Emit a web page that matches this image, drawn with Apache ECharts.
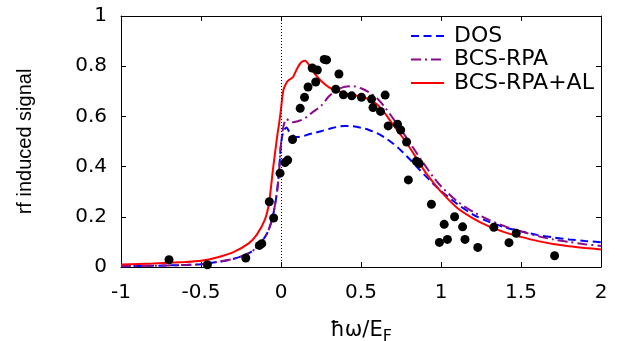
<!DOCTYPE html>
<html>
<head>
<meta charset="utf-8">
<script src="https://cdn.jsdelivr.net/npm/echarts@6/dist/echarts.min.js"></script>
<style>
html,body{margin:0;padding:0;background:#fff;}
#chart{width:618px;height:341px;}
</style>
</head>
<body>
<div id="chart"></div>
<script>
// Theory curves, sampled on a common x grid (ħω/E_F)
const curveX = [-1, -0.8, -0.6, -0.5, -0.4, -0.3, -0.2, -0.15, -0.1, -0.075, -0.05, -0.025, -0.01, 0, 0.015, 0.035, 0.05, 0.075, 0.1, 0.125, 0.15, 0.175, 0.2, 0.25, 0.3, 0.35, 0.4, 0.45, 0.5, 0.55, 0.6, 0.65, 0.7, 0.75, 0.8, 0.85, 0.9, 0.95, 1.0, 1.1, 1.2, 1.3, 1.4, 1.5, 1.6, 1.7, 1.8, 1.9, 2.0];
const dosY = [0.003, 0.005, 0.008, 0.011, 0.02, 0.032, 0.055, 0.08, 0.12, 0.152, 0.205, 0.3, 0.4, 0.49, 0.54, 0.556, 0.54, 0.524, 0.518, 0.52, 0.524, 0.529, 0.533, 0.541, 0.55, 0.558, 0.562, 0.561, 0.555, 0.546, 0.533, 0.515, 0.492, 0.464, 0.432, 0.398, 0.365, 0.333, 0.303, 0.252, 0.209, 0.18, 0.158, 0.142, 0.128, 0.118, 0.11, 0.104, 0.099];
const rpaY = [0.003, 0.005, 0.008, 0.011, 0.02, 0.032, 0.055, 0.08, 0.12, 0.152, 0.205, 0.3, 0.4, 0.49, 0.56, 0.59, 0.582, 0.577, 0.58, 0.585, 0.593, 0.605, 0.618, 0.642, 0.68, 0.705, 0.718, 0.72, 0.712, 0.696, 0.672, 0.636, 0.592, 0.547, 0.5, 0.452, 0.405, 0.36, 0.322, 0.262, 0.22, 0.188, 0.162, 0.142, 0.124, 0.11, 0.1, 0.091, 0.084];
const alY = [0.01, 0.014, 0.02, 0.025, 0.038, 0.058, 0.095, 0.13, 0.19, 0.255, 0.39, 0.515, 0.58, 0.63, 0.705, 0.735, 0.745, 0.757, 0.79, 0.815, 0.822, 0.805, 0.778, 0.742, 0.716, 0.703, 0.692, 0.685, 0.678, 0.668, 0.648, 0.612, 0.567, 0.525, 0.48, 0.43, 0.38, 0.338, 0.3, 0.236, 0.194, 0.162, 0.138, 0.12, 0.104, 0.092, 0.083, 0.076, 0.07];

// Experimental points
const expX = [-0.70, -0.46, -0.22, -0.135, -0.12, -0.073, -0.046, -0.006, 0.025, 0.042, 0.072, 0.12, 0.147, 0.169, 0.217, 0.195, 0.227, 0.27, 0.285, 0.362, 0.342, 0.39, 0.442, 0.503, 0.566, 0.575, 0.622, 0.651, 0.67, 0.728, 0.748, 0.785, 0.846, 0.864, 0.796, 0.94, 1.02, 0.99, 1.04, 1.085, 1.135, 1.15, 1.23, 1.33, 1.425, 1.47, 1.71];
const expY = [0.029, 0.009, 0.036, 0.086, 0.093, 0.26, 0.195, 0.374, 0.416, 0.426, 0.508, 0.632, 0.676, 0.717, 0.737, 0.793, 0.785, 0.827, 0.825, 0.769, 0.708, 0.686, 0.682, 0.676, 0.669, 0.635, 0.62, 0.685, 0.562, 0.569, 0.546, 0.498, 0.421, 0.412, 0.347, 0.25, 0.17, 0.098, 0.11, 0.2, 0.16, 0.11, 0.078, 0.158, 0.097, 0.134, 0.045];

const seriesNames = ['DOS', 'BCS-RPA', 'BCS-RPA+AL'];
const xAxisName = 'ħω/E';
const xAxisSub = 'F';
const yAxisName = 'rf induced signal';

const pairs = (xs, ys) => xs.map((x, i) => [x, ys[i]]);

const chart = echarts.init(document.getElementById('chart'), null, {renderer: 'canvas'});
const tickFont = {fontFamily: 'DejaVu Sans', fontSize: 20, color: '#000'};
const axisCommon = {
  type: 'value',
  axisLine: {show: true, onZero: false, lineStyle: {color: '#000', width: 1}},
  axisTick: {show: true, inside: true, length: 5, lineStyle: {color: '#000'}},
  splitLine: {show: false}
};
chart.setOption({
  animation: false,
  grid: {left: 121, right: 17, top: 16, bottom: 74, containLabel: false, outerBoundsMode: 'none'},
  xAxis: [
    Object.assign({}, axisCommon, {
      min: -1, max: 2, interval: 0.5, position: 'bottom',
      axisLabel: Object.assign({margin: 16}, tickFont),
      name: '{a|' + xAxisName + '}{b|' + xAxisSub + '}',
      nameLocation: 'middle', nameGap: 50,
      nameTextStyle: {
        rich: {
          a: {fontFamily: 'DejaVu Sans', fontSize: 21, color: '#000'},
          b: {fontFamily: 'DejaVu Sans', fontSize: 16, color: '#000', padding: [12, 0, 0, 0]}
        }
      }
    }),
    Object.assign({}, axisCommon, {
      min: -1, max: 2, interval: 0.5, position: 'top',
      axisLabel: {show: false}
    })
  ],
  yAxis: [
    Object.assign({}, axisCommon, {
      min: 0, max: 1, interval: 0.2, position: 'left',
      axisLabel: Object.assign({margin: 14}, tickFont),
      name: yAxisName, nameLocation: 'middle', nameGap: 86,
      nameTextStyle: {fontFamily: 'Liberation Sans', fontSize: 20, color: '#000'}
    }),
    Object.assign({}, axisCommon, {
      min: 0, max: 1, interval: 0.2, position: 'right',
      axisLabel: {show: false}
    })
  ],
  legend: {
    data: seriesNames,
    orient: 'vertical',
    left: 405, top: 20,
    itemWidth: 33, itemHeight: 14, itemGap: 1.5,
    itemStyle: {opacity: 0},
    textStyle: {fontFamily: 'DejaVu Sans', fontSize: 22, color: '#000', lineHeight: 22, padding: [0, 0, 0, 5]}
  },
  series: [
    {
      name: 'zero', type: 'line', data: [], silent: true,
      markLine: {
        silent: true, symbol: 'none', label: {show: false},
        lineStyle: {color: '#000', type: [1, 2], width: 1},
        data: [{xAxis: 0}]
      }
    },
    {
      name: seriesNames[0], type: 'line', data: pairs(curveX, dosY),
      showSymbol: false, symbol: 'none', smooth: 0.3,
      lineStyle: {color: '#0000ff', width: 2, type: [8, 4.5]},
      itemStyle: {color: '#0000ff'}
    },
    {
      name: seriesNames[1], type: 'line', data: pairs(curveX, rpaY),
      showSymbol: false, symbol: 'none', smooth: 0.3,
      lineStyle: {color: '#8a0a8a', width: 2, type: [10, 4, 2, 4]},
      itemStyle: {color: '#8a0a8a'}
    },
    {
      name: seriesNames[2], type: 'line', data: pairs(curveX, alY),
      showSymbol: false, symbol: 'none', smooth: 0.3,
      lineStyle: {color: '#ff0000', width: 2},
      itemStyle: {color: '#ff0000'}
    },
    {
      name: 'data', type: 'scatter', data: pairs(expX, expY),
      symbol: 'circle', symbolSize: 9, z: 5,
      itemStyle: {color: '#000', opacity: 1}
    }
  ]
});
</script>
</body>
</html>
